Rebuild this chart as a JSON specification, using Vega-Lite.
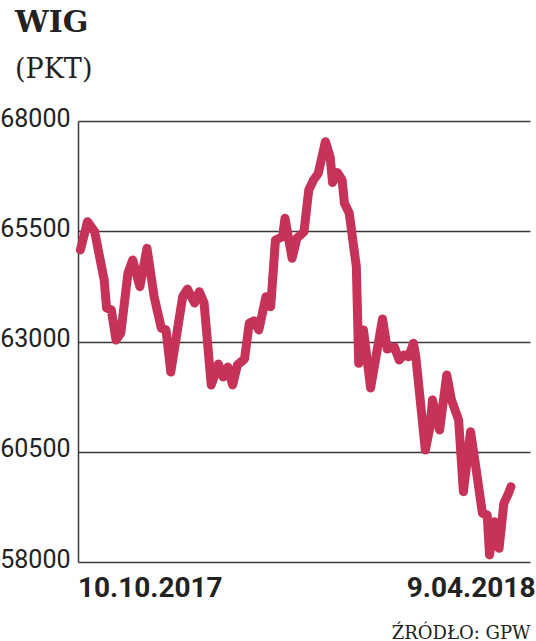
{
  "$schema": "https://vega.github.io/schema/vega-lite/v6.json",
  "width": 452,
  "height": 441,
  "autosize": {"type": "none"},
  "padding": {"left": 78, "top": 121, "right": 6, "bottom": 79},
  "background": "white",
  "config": {"view": {"stroke": null}},
  "title": {
    "text": "WIG",
    "subtitle": "(PKT)",
    "anchor": "start",
    "frame": "group",
    "dx": -63,
    "font": "DejaVu Serif",
    "fontWeight": "bold",
    "fontSize": 30,
    "color": "#222222",
    "subtitleFont": "DejaVu Serif",
    "subtitleFontSize": 27,
    "subtitleColor": "#222222",
    "subtitlePadding": 19,
    "offset": 23
  },
  "data": {
    "values": [
      {"date": "2017-10-10", "wig": 65075},
      {"date": "2017-10-13", "wig": 65717},
      {"date": "2017-10-16", "wig": 65490},
      {"date": "2017-10-20", "wig": 64395},
      {"date": "2017-10-21", "wig": 63760},
      {"date": "2017-10-23", "wig": 63714},
      {"date": "2017-10-25", "wig": 63034},
      {"date": "2017-10-27", "wig": 63193},
      {"date": "2017-10-30", "wig": 64553},
      {"date": "2017-11-01", "wig": 64848},
      {"date": "2017-11-04", "wig": 64243},
      {"date": "2017-11-07", "wig": 65113},
      {"date": "2017-11-10", "wig": 64016},
      {"date": "2017-11-13", "wig": 63306},
      {"date": "2017-11-15", "wig": 63261},
      {"date": "2017-11-17", "wig": 62308},
      {"date": "2017-11-22", "wig": 64016},
      {"date": "2017-11-24", "wig": 64190},
      {"date": "2017-11-27", "wig": 63873},
      {"date": "2017-11-29", "wig": 64129},
      {"date": "2017-12-01", "wig": 63873},
      {"date": "2017-12-04", "wig": 62014},
      {"date": "2017-12-07", "wig": 62490},
      {"date": "2017-12-09", "wig": 62195},
      {"date": "2017-12-11", "wig": 62422},
      {"date": "2017-12-13", "wig": 62014},
      {"date": "2017-12-15", "wig": 62467},
      {"date": "2017-12-18", "wig": 62603},
      {"date": "2017-12-20", "wig": 63419},
      {"date": "2017-12-22", "wig": 63465},
      {"date": "2017-12-24", "wig": 63261},
      {"date": "2017-12-27", "wig": 64016},
      {"date": "2017-12-29", "wig": 63789},
      {"date": "2017-12-31", "wig": 65302},
      {"date": "2018-01-03", "wig": 65376},
      {"date": "2018-01-04", "wig": 65794},
      {"date": "2018-01-07", "wig": 64887},
      {"date": "2018-01-09", "wig": 65340},
      {"date": "2018-01-12", "wig": 65490},
      {"date": "2018-01-14", "wig": 66435},
      {"date": "2018-01-16", "wig": 66662},
      {"date": "2018-01-18", "wig": 66814},
      {"date": "2018-01-21", "wig": 67531},
      {"date": "2018-01-23", "wig": 67184},
      {"date": "2018-01-24", "wig": 66605},
      {"date": "2018-01-26", "wig": 66832},
      {"date": "2018-01-28", "wig": 66662},
      {"date": "2018-01-29", "wig": 66134},
      {"date": "2018-01-31", "wig": 65914},
      {"date": "2018-02-03", "wig": 64696},
      {"date": "2018-02-04", "wig": 62506},
      {"date": "2018-02-06", "wig": 63261},
      {"date": "2018-02-09", "wig": 61946},
      {"date": "2018-02-14", "wig": 63510},
      {"date": "2018-02-16", "wig": 62830},
      {"date": "2018-02-19", "wig": 62875},
      {"date": "2018-02-21", "wig": 62580},
      {"date": "2018-02-23", "wig": 62694},
      {"date": "2018-02-25", "wig": 62655},
      {"date": "2018-02-27", "wig": 62959},
      {"date": "2018-02-28", "wig": 62655},
      {"date": "2018-03-04", "wig": 60540},
      {"date": "2018-03-06", "wig": 61068},
      {"date": "2018-03-07", "wig": 61673},
      {"date": "2018-03-10", "wig": 60993},
      {"date": "2018-03-13", "wig": 62240},
      {"date": "2018-03-15", "wig": 61673},
      {"date": "2018-03-18", "wig": 61220},
      {"date": "2018-03-20", "wig": 59594},
      {"date": "2018-03-23", "wig": 60955},
      {"date": "2018-03-25", "wig": 60238},
      {"date": "2018-03-28", "wig": 59104},
      {"date": "2018-03-30", "wig": 59066},
      {"date": "2018-03-31", "wig": 58159},
      {"date": "2018-04-02", "wig": 58914},
      {"date": "2018-04-04", "wig": 58310},
      {"date": "2018-04-06", "wig": 59331},
      {"date": "2018-04-08", "wig": 59564},
      {"date": "2018-04-09", "wig": 59707}
    ]
  },
  "mark": {
    "type": "line",
    "color": "#C73259",
    "strokeWidth": 9,
    "strokeCap": "round",
    "strokeJoin": "round"
  },
  "encoding": {
    "x": {
      "field": "date",
      "type": "temporal",
      "scale": {
        "type": "utc",
        "domain": [
          {"year": 2017, "month": 10, "date": 9, "utc": true},
          {"year": 2018, "month": 4, "date": 17, "utc": true}
        ]
      },
      "axis": {
        "values": [
          {"year": 2017, "month": 10, "date": 10, "utc": true},
          {"year": 2018, "month": 4, "date": 9, "utc": true}
        ],
        "format": "%-d.%m.%Y",
        "grid": false,
        "domain": false,
        "ticks": false,
        "labelFont": "Roboto",
        "labelFontSize": 28,
        "labelFontWeight": "bold",
        "labelColor": "#222222",
        "labelPadding": 12,
        "labelBaseline": "top",
        "labelAlign": {"condition": {"test": "datum.index === 0", "value": "left"}, "value": "right"},
        "labelOffset": {"condition": {"test": "datum.index === 0", "value": -3}, "value": 24},
        "title": "ŹRÓDŁO: GPW",
        "titleFont": "DejaVu Serif",
        "titleFontSize": 18,
        "titleFontWeight": "normal",
        "titleColor": "#222222",
        "titleAnchor": "end",
        "titleAlign": "right",
        "titleBaseline": "alphabetic",
        "titlePadding": 36
      }
    },
    "y": {
      "field": "wig",
      "type": "quantitative",
      "scale": {"domain": [58000, 68000], "nice": false, "zero": false},
      "axis": {
        "values": [58000, 60500, 63000, 65500, 68000],
        "format": "d",
        "grid": true,
        "gridColor": "#3a3a3a",
        "gridWidth": 1.5,
        "domain": true,
        "domainColor": "#3a3a3a",
        "domainWidth": 1.5,
        "ticks": false,
        "labelFont": "Roboto",
        "labelFontSize": 25,
        "labelColor": "#222222",
        "labelPadding": 8,
        "labelOffset": -3,
        "title": null
      }
    }
  }
}
